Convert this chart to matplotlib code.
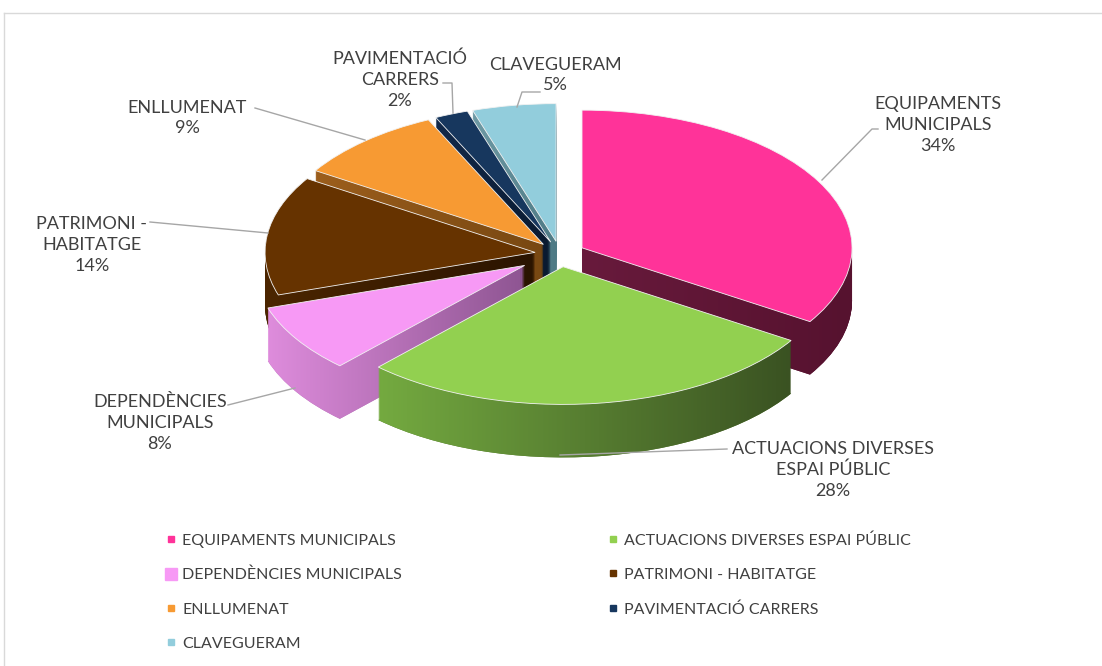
import matplotlib
matplotlib.use('Agg')
import numpy as np
import matplotlib.pyplot as plt
from matplotlib.transforms import Affine2D
from matplotlib.lines import Line2D
from matplotlib.colors import LinearSegmentedColormap

categories = ['EQUIPAMENTS MUNICIPALS', 'ACTUACIONS DIVERSES ESPAI PÚBLIC',
              'DEPENDÈNCIES MUNICIPALS', 'PATRIMONI - HABITATGE', 'ENLLUMENAT',
              'PAVIMENTACIÓ CARRERS', 'CLAVEGUERAM']
values = [34, 28, 8, 14, 9, 2, 5]
label_texts = ['EQUIPAMENTS\nMUNICIPALS\n34%', 'ACTUACIONS DIVERSES\nESPAI PÚBLIC\n28%',
               'DEPENDÈNCIES\nMUNICIPALS\n8%', 'PATRIMONI -\nHABITATGE\n14%',
               'ENLLUMENAT\n9%', 'PAVIMENTACIÓ\nCARRERS\n2%', 'CLAVEGUERAM\n5%']
top_colors = ['#FF3399', '#92D050', '#F799F5', '#663300', '#F79A33', '#17375E', '#92CDDC']
side_colors = ['#5E1535', '#55782C', '#B574B8', '#3A1C00', '#8C5418', '#0C1E33', '#5E8A95']
side_light = ['#681A3C', '#74AA40', '#DE8CDC', '#4C2600', '#9C5E1C', '#12294A', '#6E9AA5']
side_dark = ['#56122F', '#3A5222', '#8E5592', '#2A1400', '#784812', '#0A1A30', '#4E7A85']
explode = [0.093, 0.093, 0.155, 0.093, 0.093, 0.093, 0.093]

W, H = 1102, 666
fig = plt.figure(figsize=(W / 100, H / 100), dpi=100)
ax = fig.add_axes([0, 0, 1, 1])
R = 270.0
CX, CY = 560.0, 254.0
k = 0.51
depth = 53.0 / R
nl = 53
xlo, xhi = -CX / R, (W - CX) / R
ylo, yhi = (CY - H) / R, CY / R
xgrid = np.linspace(xlo, xhi, W).reshape(1, -1)
cmaps = [LinearSegmentedColormap.from_list('s%d' % j, [a, b])
         for j, (a, b) in enumerate(zip(side_light, side_dark))]


def px(x, y):
    return ((x - CX) / R, (CY - y) / R)


for i in range(nl + 1):
    off = depth * (1 - i / nl)
    top = i == nl
    cols = top_colors if top else side_colors
    wedges, _ = ax.pie(values, explode=explode, startangle=90, counterclock=False,
                       colors=cols, radius=1, center=(0, -off / k),
                       wedgeprops=dict(linewidth=0.6 if top else 0,
                                       edgecolor='#F2F2F2' if top else 'none'))
    for j, w in enumerate(wedges):
        w.set_transform(Affine2D().scale(1, k) + ax.transData)
        w.set_zorder(1)
        if not top:
            if i > 0:
                w.set_facecolor('none')
            v = w.get_path().vertices
            x0, x1 = v[:, 0].min(), v[:, 0].max()
            im = ax.imshow(xgrid, cmap=cmaps[j], vmin=x0, vmax=x1,
                           extent=(xlo, xhi, ylo, yhi), aspect='auto',
                           interpolation='nearest', zorder=1)
            im.set_clip_path(w)

ax.set_aspect('auto')
ax.set_xlim(xlo, xhi)
ax.set_ylim(ylo, yhi)
ax.axis('off')

font = 'Lato'
tc = '#404040'
lc = '#A6A6A6'
label_pos = [(938, 125), (833, 470), (160, 423), (92, 245), (187, 118), (400, 80), (555, 75)]
leaders = [
    [(822, 180), (872, 129), (878, 129)],
    [(560, 455), (727, 449)],
    [(228, 405), (295, 388)],
    [(150, 222), (268, 233)],
    [(255, 108), (365, 140)],
    [(443, 83), (452, 83), (453, 113)],
    [(540, 92), (522, 92), (517, 107)],
]
for txt, (x, y), ld in zip(label_texts, label_pos, leaders):
    ax.text(*px(x, y), txt, ha='center', va='center', fontsize=13, family=font,
            color=tc, linespacing=1.38, zorder=3)
    xs = [px(a, b)[0] for a, b in ld]
    ys = [px(a, b)[1] for a, b in ld]
    ax.plot(xs, ys, color=lc, lw=1, zorder=2)

# legend
order = [0, 2, 4, 6, 1, 3, 5]
handles = []
for idx in order:
    ms = 9 if idx == 2 else 4
    handles.append(Line2D([], [], marker='s', ls='', color=top_colors[idx], markersize=ms,
                          label=categories[idx]))
leg = fig.legend(handles=handles, loc='upper left', ncol=2, frameon=False,
                 bbox_to_anchor=(160 / W, 1 - 527 / H), prop=dict(family=font, size=11.5),
                 labelcolor=tc, handlelength=0.6, handletextpad=0.4, labelspacing=1.25,
                 columnspacing=12.9, borderaxespad=0)

# chart border
fig.add_artist(Line2D([4 / W, 1], [1 - 13 / H, 1 - 13 / H], color='#D9D9D9', lw=1))
fig.add_artist(Line2D([4 / W, 4 / W], [0, 1 - 13 / H], color='#D9D9D9', lw=1))

fig.savefig('out.png', dpi=100)
